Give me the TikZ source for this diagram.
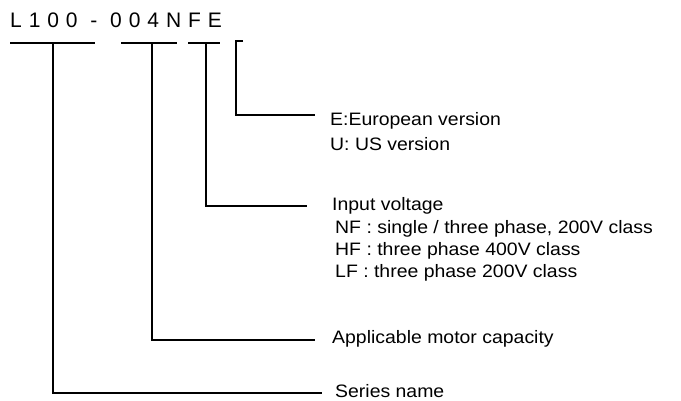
\documentclass[tikz,border=0pt]{standalone}
\usepackage{fontspec}
\setmainfont[FakeStretch=1.08]{Liberation Sans}
\newfontfamily\codefont[LetterSpace=33]{Liberation Sans}
\usepackage{tikz}
\usetikzlibrary{positioning}

\begin{document}
\begin{tikzpicture}[x=1pt, y=-1pt,
    bar/.style={line width=1.3pt},
    lbl/.style={anchor=base west, inner sep=0pt, font=\fontsize{18}{22}\selectfont}]
\useasboundingbox (0,0) rectangle (681,401);

% Model code
\node[anchor=base west, inner sep=0pt, font=\codefont\fontsize{21}{24}\selectfont] (code) at (10,28) {L100 - 004NFE};

% Underlines below the code
\coordinate (serL) at (10,43);  \coordinate (serR) at (95,43);
\coordinate (capL) at (121,43); \coordinate (capR) at (177,43);
\coordinate (volL) at (188,43); \coordinate (volR) at (220,43);
\coordinate (verT) at (243,41);
\draw[bar] (serL) -- (serR);
\draw[bar] (capL) -- (capR);
\draw[bar] (volL) -- (volR);

% Drop points
\coordinate (serD) at (53,43);
\coordinate (capD) at (152,43);
\coordinate (volD) at (206,43);

% Labels
\node[lbl] (ver) at (330,126) {E:European version};
\node[lbl] (us) at (330,151) {U: US version};
\node[lbl] (volt) at (332,211) {Input voltage};
\node[lbl] (nf) at (335,234) {NF : single / three phase, 200V class};
\node[lbl] (hf) at (335,256) {HF : three phase 400V class};
\node[lbl] (lf) at (335,278) {LF : three phase 200V class};
\node[lbl] (cap) at (332,343) {Applicable motor capacity};
\node[lbl] (series) at (335,397) {Series name};

% Leader lines
\draw[bar] (verT) -- ++(-7,0) |- ([shift={(-15,-11)}]ver.base west);
\draw[bar] (volD) |- ([shift={(-25,-5)}]volt.base west);
\draw[bar] (capD) |- ([shift={(-17,-3)}]cap.base west);
\draw[bar] (serD) |- ([shift={(-13,-4)}]series.base west);
\end{tikzpicture}
\end{document}
